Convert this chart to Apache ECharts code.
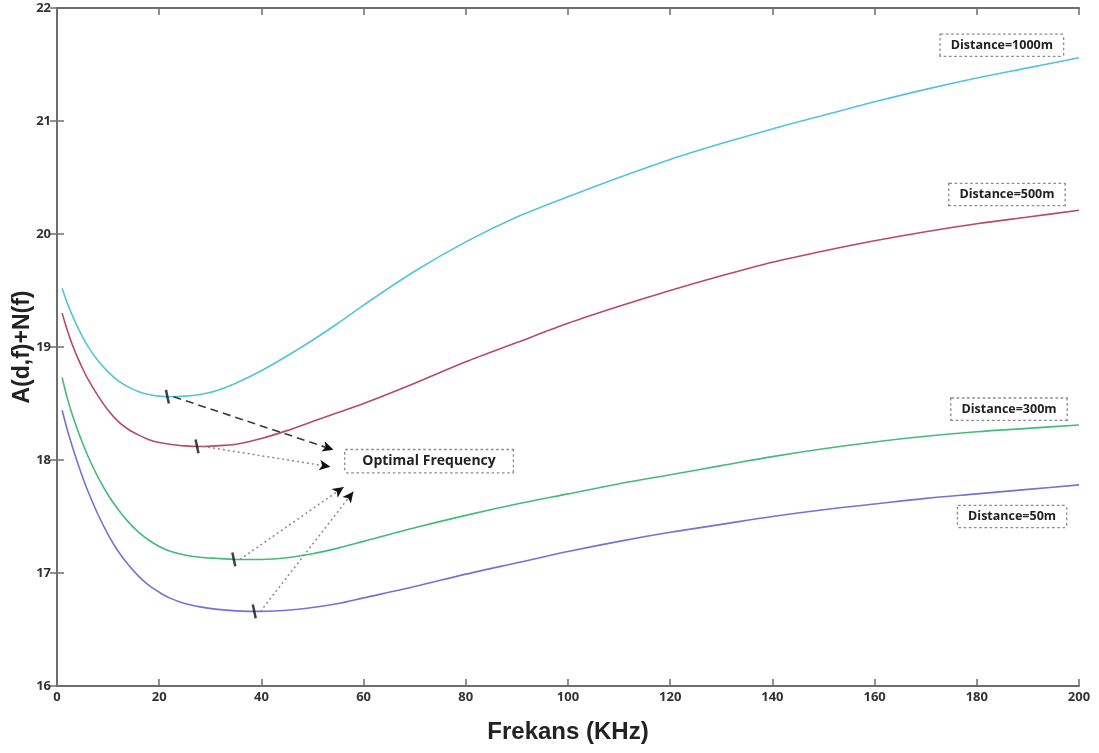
<!DOCTYPE html>
<html>
<head>
<meta charset="utf-8">
<script src="https://cdn.jsdelivr.net/npm/echarts@6/dist/echarts.min.js"></script>
<style>
  html, body { margin: 0; padding: 0; background: #fff; }
  #chart { width: 1099px; height: 753px; }
</style>
</head>
<body>
<div id="chart"></div>
<script>
// Frequency samples (kHz)
const freq = [1, 2, 3, 4, 5, 6, 8, 10, 12, 14, 16, 18, 20, 22, 25, 28, 31, 35, 40, 45, 50, 55, 60, 70, 80, 90, 100, 110, 120, 130, 140, 150, 160, 170, 180, 190, 200];

// A(d,f)+N(f) for each transmission distance
const d1000 = [19.52, 19.39, 19.28, 19.18, 19.09, 19.01, 18.88, 18.78, 18.70, 18.645, 18.605, 18.58, 18.565, 18.56, 18.565, 18.58, 18.61, 18.68, 18.79, 18.92, 19.06, 19.21, 19.37, 19.67, 19.93, 20.15, 20.33, 20.50, 20.66, 20.80, 20.93, 21.05, 21.17, 21.28, 21.38, 21.47, 21.56];
const d500  = [19.30, 19.15, 19.02, 18.91, 18.81, 18.72, 18.57, 18.44, 18.34, 18.27, 18.22, 18.18, 18.155, 18.14, 18.125, 18.12, 18.125, 18.14, 18.19, 18.26, 18.34, 18.42, 18.50, 18.68, 18.87, 19.04, 19.21, 19.36, 19.50, 19.63, 19.75, 19.85, 19.94, 20.02, 20.09, 20.15, 20.21];
const d300  = [18.73, 18.55, 18.40, 18.27, 18.15, 18.04, 17.85, 17.69, 17.56, 17.45, 17.36, 17.29, 17.235, 17.195, 17.16, 17.14, 17.13, 17.12, 17.12, 17.135, 17.17, 17.22, 17.28, 17.40, 17.51, 17.61, 17.70, 17.79, 17.87, 17.95, 18.03, 18.10, 18.16, 18.21, 18.25, 18.28, 18.31];
const d50   = [18.44, 18.27, 18.12, 17.98, 17.85, 17.73, 17.52, 17.34, 17.19, 17.07, 16.97, 16.89, 16.83, 16.78, 16.73, 16.70, 16.68, 16.665, 16.66, 16.67, 16.695, 16.73, 16.78, 16.88, 16.99, 17.09, 17.19, 17.28, 17.36, 17.43, 17.50, 17.56, 17.61, 17.66, 17.70, 17.74, 17.78];

const distances = [1000, 500, 300, 50];

// Optimal (minimum) frequency points per distance
const optFreq = [21.6, 27.4, 34.6, 38.6];
const optVal  = [18.56, 18.12, 17.12, 16.66];

// Arrow targets near the "Optimal Frequency" note
const arrowEndFreq = [54.1, 53.5, 56.1, 58.0];
const arrowEndVal  = [18.09, 17.94, 17.76, 17.72];

// Note positions (data coordinates)
const noteFreq = 72.8, noteVal = 17.99;
const distLabelFreq = [184.9, 185.9, 186.3, 186.9];
const distLabelVal  = [21.67, 20.35, 18.45, 17.50];

const yTicks = [16, 17, 18, 19, 20, 21, 22];

const colors = ['#55c3da', '#b54a6e', '#46b97c', '#7672d4'];
const curves = [d1000, d500, d300, d50];

const pairs = (ys) => freq.map((f, i) => [f, ys[i]]);

const boxLabel = (text, size, pad) => ({
  show: true,
  position: 'inside',
  formatter: text,
  fontFamily: 'Open Sans',
  fontWeight: 'bold',
  fontSize: size,
  color: '#222',
  backgroundColor: '#fff',
  borderColor: '#8a8a8a',
  borderWidth: 1.3,
  borderType: 'dotted',
  padding: pad
});

const lineSeries = curves.map((ys, i) => ({
  name: 'Distance=' + distances[i] + 'm',
  type: 'line',
  data: pairs(ys),
  smooth: 0.3,
  showSymbol: false,
  lineStyle: { color: colors[i], width: 1.6 },
  z: 3
}));

// Arrow shafts (dashed for the first, dotted for the rest) plus dark arrowheads
const shafts = optFreq.map((f, i) => [
  { coord: [f + 1.2, optVal[i]] },
  {
    coord: [arrowEndFreq[i], arrowEndVal[i]],
    symbol: 'none',
    lineStyle: {
      color: i === 0 ? '#3a3a3a' : '#8a8a8a',
      width: i === 0 ? 1.6 : 1.5,
      type: i === 0 ? [8, 5] : [2, 3]
    }
  }
]);
const heads = optFreq.map((f, i) => {
  const t = 0.93;
  const sx = f + 1.2, sy = optVal[i];
  return [
    { coord: [sx + (arrowEndFreq[i] - sx) * t, sy + (arrowEndVal[i] - sy) * t] },
    { coord: [arrowEndFreq[i], arrowEndVal[i]], lineStyle: { color: '#111', width: 0.01, type: 'solid' } }
  ];
});

const markerSeries = {
  type: 'scatter',
  data: optFreq.map((f, i) => [f, optVal[i]]),
  symbol: 'rect',
  symbolSize: [2.5, 14],
  symbolRotate: 12,
  itemStyle: { color: '#111' },
  z: 5,
  markLine: {
    silent: true,
    symbol: ['none', 'arrow'],
    symbolSize: [8, 11],
    label: { show: false },
    data: shafts.concat(heads)
  },
  markPoint: {
    silent: true,
    symbol: 'rect',
    symbolSize: 1,
    itemStyle: { color: 'rgba(0,0,0,0)' },
    data: [
      { coord: [noteFreq, noteVal], label: boxLabel('Optimal Frequency', 14, [4, 17, 4, 17]) }
    ].concat(distances.map((d, i) => ({
      coord: [distLabelFreq[i], distLabelVal[i]],
      label: boxLabel('Distance=' + d + 'm', 12.5, [4, 10, 4, 10])
    })))
  }
};

const axisLineStyle = { color: '#6e6e6e', width: 2 };
const tickStyle = { color: '#6e6e6e', width: 1.5 };
const tickFont = { fontFamily: 'Open Sans', fontWeight: 'bold', fontSize: 13, color: '#333' };

const chart = echarts.init(document.getElementById('chart'), null, { renderer: 'canvas' });
chart.setOption({
  animation: false,
  backgroundColor: '#fff',
  grid: { left: 57, right: 20, top: 8, bottom: 67, containLabel: false },
  xAxis: [
    {
      type: 'value', min: 0, max: 200, interval: 20,
      name: 'Frekans (KHz)', nameLocation: 'middle', nameGap: 34, nameMoveOverlap: false,
      nameTextStyle: { fontFamily: 'Liberation Sans', fontWeight: 'bold', fontSize: 24, color: '#222' },
      axisLine: { lineStyle: axisLineStyle },
      axisTick: { inside: true, length: 7, lineStyle: tickStyle },
      axisLabel: Object.assign({ margin: 5 }, tickFont),
      splitLine: { show: false }
    },
    {
      type: 'value', min: 0, max: 200, interval: 20, position: 'top',
      axisLine: { lineStyle: axisLineStyle },
      axisTick: { inside: true, length: 7, lineStyle: tickStyle },
      axisLabel: { show: false },
      splitLine: { show: false }
    }
  ],
  yAxis: [
    {
      type: 'value', min: yTicks[0], max: yTicks[yTicks.length - 1], interval: 1,
      name: 'A(d,f)+N(f)', nameLocation: 'middle', nameGap: 23, nameRotate: 90, nameMoveOverlap: false,
      nameTextStyle: { fontFamily: 'Liberation Sans', fontWeight: 'bold', fontSize: 23, color: '#222' },
      axisLine: { show: true, lineStyle: axisLineStyle },
      axisTick: { show: true, inside: true, length: 7, lineStyle: tickStyle },
      axisLabel: Object.assign({ margin: 6 }, tickFont),
      splitLine: { show: false }
    },
    {
      type: 'value', min: yTicks[0], max: yTicks[yTicks.length - 1], interval: 1, position: 'right',
      axisLine: { show: true, lineStyle: axisLineStyle },
      axisTick: { show: true, inside: true, length: 7, lineStyle: tickStyle },
      axisLabel: { show: false },
      splitLine: { show: false }
    }
  ],
  series: lineSeries.concat([markerSeries])
});
</script>
</body>
</html>
